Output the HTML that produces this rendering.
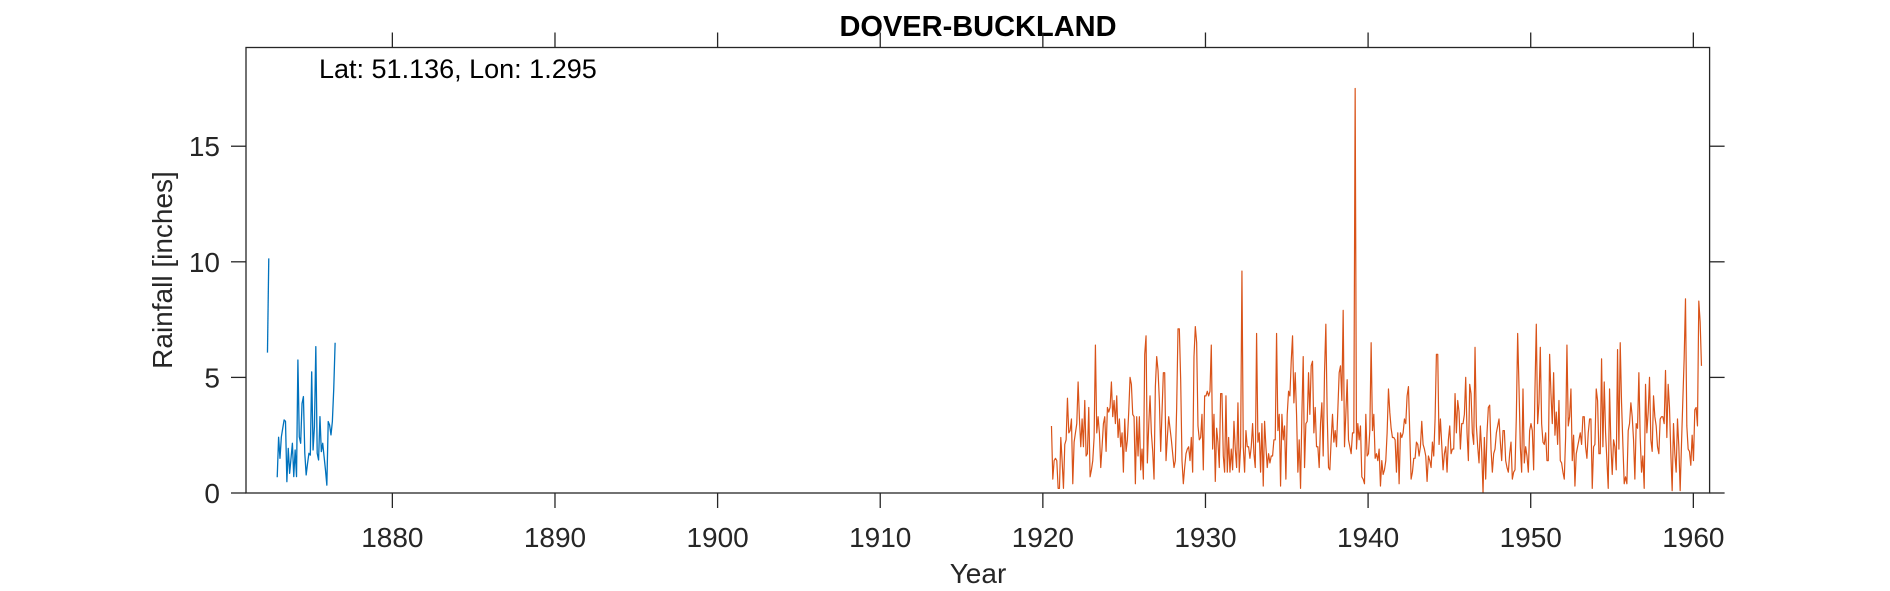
<!DOCTYPE html>
<html><head><meta charset="utf-8">
<style>
html,body{margin:0;padding:0;background:#fff;}
svg{display:block;font-family:"Liberation Sans",Arial,sans-serif;}
</style></head>
<body>
<svg id="chart" width="1890" height="591" viewBox="0 0 1890 591" xmlns="http://www.w3.org/2000/svg">
  <rect width="1890" height="591" fill="#fff"/>
  <text x="978" y="36" text-anchor="middle" font-size="29" font-weight="bold" fill="#000">DOVER-BUCKLAND</text>
  <text x="319" y="78" font-size="27" fill="#000">Lat: 51.136, Lon: 1.295</text>
  <text transform="translate(172,270) rotate(-90)" text-anchor="middle" font-size="28" fill="#262626">Rainfall [inches]</text>
  <text x="978" y="583" text-anchor="middle" font-size="28" fill="#262626">Year</text>
  <g id="ticks"></g>
  <g id="series"></g>
  <rect x="246" y="47.5" width="1463.6" height="445.5" fill="none" stroke="#262626" stroke-width="1.3"/>
</svg>
<script>
const xTicks = [1880, 1890, 1900, 1910, 1920, 1930, 1940, 1950, 1960];
const yTicks = [0, 5, 10, 15];
const xDomain = [1871, 1961];
const yDomain = [0, 19.27];

const blueEarlyYears = [1872.32, 1872.40];
const blueEarlyValues = [6.07, 10.15];
const blueStart = 1872.92;
const blueEnd = 1876.48;
const blueValues = [0.68,2.41,1.50,2.43,2.80,3.16,3.1,0.49,1.93,0.85,1.50,2.15,0.71,1.86,0.71,5.75,2.43,2.15,3.87,4.17,1.72,0.78,1.28,1.72,1.64,5.24,1.86,2.87,6.33,1.72,1.43,3.30,1.79,2.15,1.57,1.0,0.34,3.09,2.94,2.51,3.09,4.5,6.5];

const orangeStart = 1920.53;
const orangeEnd = 1960.5;
const orangeValues = [
2.9,0.6,1.4,1.5,1.4,0.2,0.2,2.4,1.4,0.2,2.1,2.3,4.1,2.6,2.7,3.2,0.4,2.2,2.6,3.0,4.8,3.2,2.0,3.2,2.0,4.0,1.6,1.7,3.7,0.7,1.0,1.4,2.4,6.4,2.6,3.3,2.6,1.1,2.0,3.0,3.3,1.8,3.7,3.5,3.7,4.8,3.3,4.0,3.0,4.2,2.4,3.2,2.0,2.6,0.9,3.2,1.8,2.3,3.5,5.0,4.7,3.4,3.3,0.4,3.3,1.6,3.3,1.0,1.9,0.6,6.0,6.8,1.3,2.9,4.2,2.6,1.8,0.6,4.6,5.9,5.3,4.0,1.8,3.5,5.2,5.2,1.4,2.4,3.3,2.8,2.3,1.7,1.1,1.4,3.7,7.1,7.1,4.9,1.4,0.4,1.1,1.7,1.9,2.0,1.4,2.4,0.9,5.9,7.2,6.5,2.9,2.3,2.4,3.4,1.0,4.2,4.2,4.4,4.2,
4.4,6.4,1.9,3.4,0.5,2.8,2.2,1.1,4.3,4.3,1.6,0.9,4.2,0.9,2.4,0.9,1.9,1.0,3.1,1.9,1.1,3.9,0.9,2.0,9.6,2.0,0.9,2.7,2.0,2.0,1.5,2.0,3.0,1.7,1.1,6.9,2.2,2.6,0.9,3.0,0.3,3.1,2.0,1.1,1.7,1.3,1.6,1.6,2.3,2.3,6.9,2.7,3.4,0.3,3.4,2.3,2.9,0.6,3.4,4.4,4.2,5.7,6.8,3.9,5.2,3.4,0.9,2.3,0.2,3.4,5.9,1.1,3.0,3.1,5.2,3.4,5.5,5.7,2.6,3.7,2.0,2.0,1.1,3.0,3.9,1.6,5.2,7.3,3.4,1.1,1.0,2.3,3.4,2.2,2.7,2.0,3.6,5.2,5.5,4.0,7.9,2.0,3.4,4.9,2.3,2.0,1.7,2.6,2.6,17.5,1.9,3.0,2.3,2.9,0.7,0.6,0.4,3.4,1.6,1.7,2.7,6.5,2.7,3.4,1.5,1.7,
1.4,1.9,0.3,1.4,0.8,1.0,1.4,2.6,4.5,3.5,2.8,2.4,2.4,2.3,0.9,2.6,0.4,2.6,2.4,2.6,3.2,3.0,4.2,4.6,2.6,0.6,0.9,1.5,1.5,2.2,2.1,1.6,2.0,3.1,2.1,1.9,1.6,0.5,1.6,1.4,1.1,2.2,1.6,3.2,6.0,6.0,2.1,3.2,2.1,1.0,1.7,2.0,0.9,2.3,2.9,1.7,1.9,1.9,4.3,2.6,4.0,3.5,1.9,3.0,3.0,3.4,5.0,2.6,1.4,4.7,4.3,2.6,2.1,6.3,2.9,2.0,1.3,2.9,1.8,0.0,2.4,0.6,2.6,3.7,3.8,1.9,0.9,1.7,1.9,2.6,2.9,3.2,2.2,1.4,2.7,2.7,1.4,1.1,0.9,1.7,2.2,0.6,0.9,1.0,3.3,6.9,4.6,2.0,0.9,4.5,1.3,2.0,1.6,0.9,2.7,3.0,2.7,1.0,4.5,7.3,3.0,3.9,6.3,3.0,2.2,
2.1,2.6,1.4,1.4,6.0,4.3,3.0,5.2,2.5,3.5,2.1,4.0,1.4,1.3,0.9,0.6,2.4,6.4,2.9,3.3,4.5,1.4,2.5,0.3,1.7,2.0,2.3,2.6,2.1,3.3,3.3,2.0,1.5,2.6,3.2,3.2,0.2,2.0,2.1,4.5,4.0,1.7,1.7,5.8,2.0,4.8,2.6,1.4,0.2,4.5,2.1,0.8,2.3,2.0,1.0,6.2,1.9,6.5,3.9,2.1,0.4,0.7,0.4,2.7,3.0,3.9,3.3,2.3,0.6,3.0,2.8,5.2,2.4,0.9,1.6,0.2,4.7,2.6,3.5,5.0,2.3,1.8,4.2,3.3,2.9,2.0,1.7,3.2,3.3,3.3,3.0,5.3,2.4,4.7,3.7,1.7,0.1,3.0,1.7,0.9,3.2,2.0,0.1,2.1,4.0,5.8,8.4,2.9,1.9,1.8,1.2,2.5,1.4,3.6,3.7,2.9,8.3,7.4,5.5];

const PX = {left:246, right:1709.6, top:47.5, bottom:493};
function xScale(v){ return PX.left + (v - xDomain[0]) / (xDomain[1] - xDomain[0]) * (PX.right - PX.left); }
function yScale(v){ return PX.bottom - (v - yDomain[0]) / (yDomain[1] - yDomain[0]) * (PX.bottom - PX.top); }
const NS = "http://www.w3.org/2000/svg";
const tickG = document.getElementById('ticks');
const serG = document.getElementById('series');

function mk(tag, attrs, parent){
  const e = document.createElementNS(NS, tag);
  for (const k in attrs) e.setAttribute(k, attrs[k]);
  parent.appendChild(e);
  return e;
}

xTicks.forEach(t => {
  const x = xScale(t);
  const b = mk('line', {x1:x, x2:x, y1:PX.bottom, y2:PX.bottom+15, stroke:'#262626', 'stroke-width':1.3}, tickG);
  
  
  const tp = mk('line', {x1:x, x2:x, y1:PX.top-15, y2:PX.top, stroke:'#262626', 'stroke-width':1.3}, tickG);
  
  
  const lb = mk('text', {x:x, y:547, 'text-anchor':'middle', 'font-size':28, fill:'#262626'}, tickG);
  lb.textContent = t;
  
  
});
yTicks.forEach(t => {
  const y = yScale(t);
  const l = mk('line', {x1:PX.left-15, x2:PX.left, y1:y, y2:y, stroke:'#262626', 'stroke-width':1.3}, tickG);
  
  
  const r = mk('line', {x1:PX.right, x2:PX.right+15, y1:y, y2:y, stroke:'#262626', 'stroke-width':1.3}, tickG);
  
  
  const lb = mk('text', {x:220, y:y+10, 'text-anchor':'end', 'font-size':28, fill:'#262626'}, tickG);
  lb.textContent = t;
  
  
});

function pathFrom(years, vals){
  return vals.map((v,i) => (i ? 'L' : 'M') + xScale(years[i]).toFixed(2) + ' ' + yScale(v).toFixed(2)).join(' ');
}
function monthly(start, end, n){
  const step = (end - start) / (n - 1);
  const arr = [];
  for (let i = 0; i < n; i++) arr.push(start + i * step);
  return arr;
}

const p1 = mk('path', {d:pathFrom(blueEarlyYears, blueEarlyValues), fill:'none', stroke:'#0072BD', 'stroke-width':1.3}, serG);


const p2 = mk('path', {d:pathFrom(monthly(blueStart, blueEnd, blueValues.length), blueValues), fill:'none', stroke:'#0072BD', 'stroke-width':1.3, 'stroke-linejoin':'round'}, serG);


const p3 = mk('path', {d:pathFrom(monthly(orangeStart, orangeEnd, orangeValues.length), orangeValues), fill:'none', stroke:'#D95319', 'stroke-width':1.2, 'stroke-linejoin':'round'}, serG);


</script>
</body></html>
